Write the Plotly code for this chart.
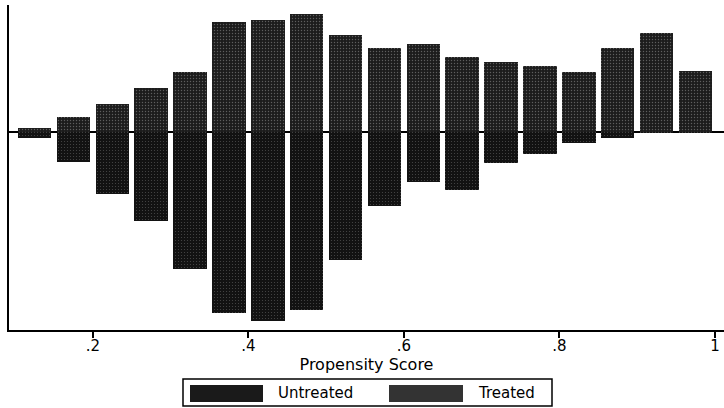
import plotly.graph_objects as go

# Bin centres of the propensity score histogram
bin_centers = [0.125, 0.175, 0.225, 0.275, 0.325, 0.375, 0.425, 0.475, 0.525,
               0.575, 0.625, 0.675, 0.725, 0.775, 0.825, 0.875, 0.925, 0.975]
# Heights (arbitrary units)
treated = [4, 15, 28, 44, 60, 110, 112, 118, 97, 84, 88, 75, 70, 66, 60, 84, 99, 61]
untreated = [6, 30, 62, 89, 137, 181, 189, 178, 128, 74, 50, 58, 31, 22, 11, 6, 1, 1]

tick_vals = [0.2, 0.4, 0.6, 0.8, 1.0]
tick_text = [".2", ".4", ".6", ".8", "1"]

FONT = "DejaVu Sans, Liberation Sans, Arial, sans-serif"

fig = go.Figure()
fig.add_trace(go.Bar(
    x=bin_centers, y=treated, width=0.043, name="Treated",
    marker=dict(color="#1c1c1c", line=dict(width=0),
                pattern=dict(shape=".", fgcolor="#a0a0a0", size=3, solidity=0.16)),
    showlegend=False,
))
fig.add_trace(go.Bar(
    x=bin_centers, y=[-v for v in untreated], width=0.043, name="Untreated",
    marker=dict(color="#121212", line=dict(width=0),
                pattern=dict(shape=".", fgcolor="#8a8a8a", size=3, solidity=0.1)),
    showlegend=False,
))

xmin, xmax = 0.0922, 1.0117
fig.add_shape(type="line", xref="x", yref="y", x0=xmin, x1=xmax, y0=0, y1=0,
              line=dict(color="black", width=2), layer="below")

# Manual legend (paper coordinates; paper spans x 9..724 px, y 5..330 px)
PW, PH = 715.0, 325.0
def px(xp):
    return (xp - 9) / PW
def py(yp):
    return (330 - yp) / PH

fig.add_shape(type="rect", xref="paper", yref="paper",
              x0=px(183), x1=px(552), y0=py(406), y1=py(379),
              line=dict(color="black", width=1.5), fillcolor="white")
fig.add_shape(type="rect", xref="paper", yref="paper",
              x0=px(190), x1=px(263), y0=py(402), y1=py(385),
              line=dict(width=0), fillcolor="#1a1a1a")
fig.add_shape(type="rect", xref="paper", yref="paper",
              x0=px(389), x1=px(463), y0=py(402), y1=py(385),
              line=dict(width=0), fillcolor="#333333")
fig.add_annotation(xref="paper", yref="paper", x=px(276), y=py(393),
                   text="Untreated", showarrow=False, xanchor="left", yanchor="middle",
                   font=dict(family=FONT, size=15, color="black"))
fig.add_annotation(xref="paper", yref="paper", x=px(476), y=py(393),
                   text="Treated", showarrow=False, xanchor="left", yanchor="middle",
                   font=dict(family=FONT, size=15, color="black"))

fig.update_layout(
    width=724, height=408,
    margin=dict(l=9, r=0, t=5, b=78),
    paper_bgcolor="white", plot_bgcolor="white",
    barmode="relative", bargap=0,
    font=dict(family=FONT, color="black"),
    xaxis=dict(range=[xmin, xmax], tickvals=tick_vals, ticktext=tick_text,
               showline=True, linecolor="black", linewidth=2,
               ticks="outside", ticklen=6, tickwidth=1.5, tickcolor="black",
               tickfont=dict(size=15), ticklabelstandoff=-5,
               showgrid=False, zeroline=False,
               title=dict(text="Propensity Score", font=dict(size=16), standoff=0)),
    yaxis=dict(range=[-198, 127], showline=True, linecolor="black", linewidth=2,
               showticklabels=False, ticks="", showgrid=False, zeroline=False),
)

fig.write_html("out.html", config={"displayModeBar": False})

# remove default page margin so the 724x408 figure fills the window exactly
with open("out.html", "r", encoding="utf-8") as f:
    html = f.read()
html = html.replace("<head>", "<head><style>html,body{margin:0;padding:0;overflow:hidden;}</style>", 1)
with open("out.html", "w", encoding="utf-8") as f:
    f.write(html)
